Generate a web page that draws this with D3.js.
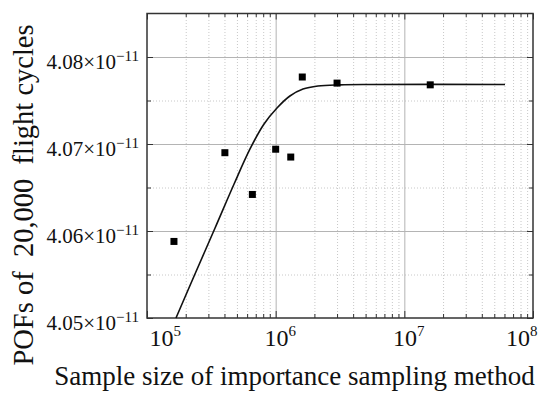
<!DOCTYPE html>
<html>
<head>
<meta charset="utf-8">
<script src="https://cdn.jsdelivr.net/npm/d3@7"></script>
<style>
  body { margin: 0; background: #fff; }
</style>
</head>
<body>
<div class="js-vis"></div>
<script>
// Values (POF in units of 1e-11)
const sampleN = [1.62e5, 4.03e5, 6.59e5, 1.0e6, 1.31e6, 1.61e6, 3.0e6, 1.59e7],
    samplePof = [4.0588, 4.0690, 4.0642, 4.0694, 4.0685, 4.0777, 4.0770, 4.0768]

const curveN = [1.68e5, 2.36e5, 3.38e5, 4.75e5, 6.32e5, 8.12e5, 1.024e6, 1.29e6, 1.63e6, 2.13e6, 3.16e6, 5.41e6, 6.06e7],
    curvePof = [4.0500, 4.05506, 4.06034, 4.0654, 4.06943, 4.0723, 4.07414, 4.07552, 4.07632, 4.07667, 4.0768, 4.07684, 4.07684]

const xMajor = [1e5, 1e6, 1e7, 1e8],
    yMajor = [4.05, 4.06, 4.07, 4.08],
    yMinor = [4.055, 4.065, 4.075]

const ewidth = 550, eheight = 397
const margin = { top: 13.5, right: 17, bottom: 79, left: 147 },
    width = ewidth - margin.left - margin.right,
    height = eheight - margin.top - margin.bottom

const serif = "Liberation Serif"

const x = d3.scaleLog()
  .domain([1e5, 1e8])
  .range([0, width])

const y = d3.scaleLinear()
  .domain([4.05, 4.085])
  .range([height, 0])

const xMinor = []
xMajor.slice(0, -1).forEach(d => { for (let k = 2; k < 10; k++) xMinor.push(d * k) })

const svg = d3.select(".js-vis").append("svg")
  .attr("width", ewidth)
  .attr("height", eheight)

const vis = svg.append("g")
  .attr("transform", "translate(" + margin.left + "," + margin.top + ")")

// grid
vis.append("g")
  .attr("transform", "translate(0," + height + ")")
  .call(d3.axisBottom(x).tickValues(xMinor).tickSize(-height).tickFormat(""))
  .call(g => g.select(".domain").remove())
  .selectAll("line").attr("stroke", "#c8c8c8").attr("stroke-dasharray", "1,2")

vis.append("g")
  .call(d3.axisLeft(y).tickValues(yMinor).tickSize(-width).tickFormat(""))
  .call(g => g.select(".domain").remove())
  .selectAll("line").attr("stroke", "#c8c8c8").attr("stroke-dasharray", "1,2")

vis.append("g")
  .attr("transform", "translate(0," + height + ")")
  .call(d3.axisBottom(x).tickValues(xMajor.slice(1, -1)).tickSize(-height).tickFormat(""))
  .call(g => g.select(".domain").remove())
  .selectAll("line").attr("stroke", "#b4b4b4")

vis.append("g")
  .call(d3.axisLeft(y).tickValues(yMajor.slice(1)).tickSize(-width).tickFormat(""))
  .call(g => g.select(".domain").remove())
  .selectAll("line").attr("stroke", "#b4b4b4")

// tick marks, inward on all four sides
const tickAxes = [
  [d3.axisBottom(x).tickValues(xMajor).tickSize(-7), "translate(0," + height + ")"],
  [d3.axisBottom(x).tickValues(xMinor).tickSize(-4), "translate(0," + height + ")"],
  [d3.axisTop(x).tickValues(xMajor).tickSize(-6), null],
  [d3.axisTop(x).tickValues(xMinor).tickSize(-3.5), null],
  [d3.axisLeft(y).tickValues(yMajor).tickSize(-6), null],
  [d3.axisLeft(y).tickValues(yMinor).tickSize(-4), null],
  [d3.axisRight(y).tickValues(yMajor).tickSize(-6), "translate(" + width + ",0)"],
  [d3.axisRight(y).tickValues(yMinor).tickSize(-4), "translate(" + width + ",0)"]
]
tickAxes.forEach(([ax, tr]) => {
  const g = vis.append("g").call(ax.tickFormat(""))
  if (tr) g.attr("transform", tr)
  g.select(".domain").remove()
  g.selectAll("line").attr("stroke", "#333").attr("stroke-width", 1)
})

// labels
const xLab = vis.append("g")
  .attr("transform", "translate(0," + height + ")")
  .call(d3.axisBottom(x).tickValues(xMajor).tickSize(0).tickFormat(""))
xLab.select(".domain").remove()
xLab.selectAll(".tick text")
  .attr("y", 28).attr("dy", 0)
  .attr("fill", "#111")
  .attr("font-family", serif)
  .attr("font-size", 24)
  .attr("text-anchor", (d, i) => i === 0 ? "start" : i === xMajor.length - 1 ? "end" : "middle")
  .attr("x", (d, i) => i === 0 ? 2 : 4)
  .each(function(d) {
    const t = d3.select(this)
    t.append("tspan").text("10")
    t.append("tspan").attr("font-size", 15).attr("dy", -10).text(Math.round(Math.log10(d)))
  })

const yLab = vis.append("g")
  .call(d3.axisLeft(y).tickValues(yMajor).tickSize(0).tickPadding(8).tickFormat(""))
yLab.select(".domain").remove()
yLab.selectAll(".tick text")
  .attr("dy", "0.55em")
  .attr("fill", "#111")
  .attr("font-family", serif)
  .attr("font-size", 21)
  .each(function(d) {
    const t = d3.select(this)
    t.append("tspan").text(d3.format(".2f")(d) + "\u00d710")
    t.append("tspan").attr("font-size", 15).attr("dy", -8).text("\u221211")
  })

// frame
vis.append("rect")
  .attr("width", width).attr("height", height)
  .attr("fill", "none").attr("stroke", "#333").attr("stroke-width", 1.5)

// fitted curve
const line = d3.line()
  .x((d, i) => x(curveN[i]))
  .y(d => y(d))
  .curve(d3.curveCatmullRom.alpha(0.5))

vis.append("path")
  .datum(curvePof)
  .attr("d", line)
  .attr("fill", "none")
  .attr("stroke", "#111")
  .attr("stroke-width", 1.6)

// samples
const sq = 7
vis.append("g").selectAll("rect")
  .data(samplePof)
.enter().append("rect")
  .attr("x", (d, i) => x(sampleN[i]) - sq / 2)
  .attr("y", d => y(d) - sq / 2)
  .attr("width", sq).attr("height", sq)
  .attr("fill", "#000")

// axis titles
svg.append("text")
  .attr("x", 294.5).attr("y", 385)
  .attr("text-anchor", "middle")
  .attr("font-family", serif)
  .attr("font-size", 27)
  .attr("fill", "#111")
  .text("Sample size of importance sampling method")

svg.append("text")
  .attr("transform", "translate(33,195) rotate(-90)")
  .attr("text-anchor", "middle")
  .attr("font-family", serif)
  .attr("font-size", 28.5)
  .attr("fill", "#111")
  .style("white-space", "pre")
  .text("POFs of  20,000  flight cycles")
</script>
</body>
</html>
